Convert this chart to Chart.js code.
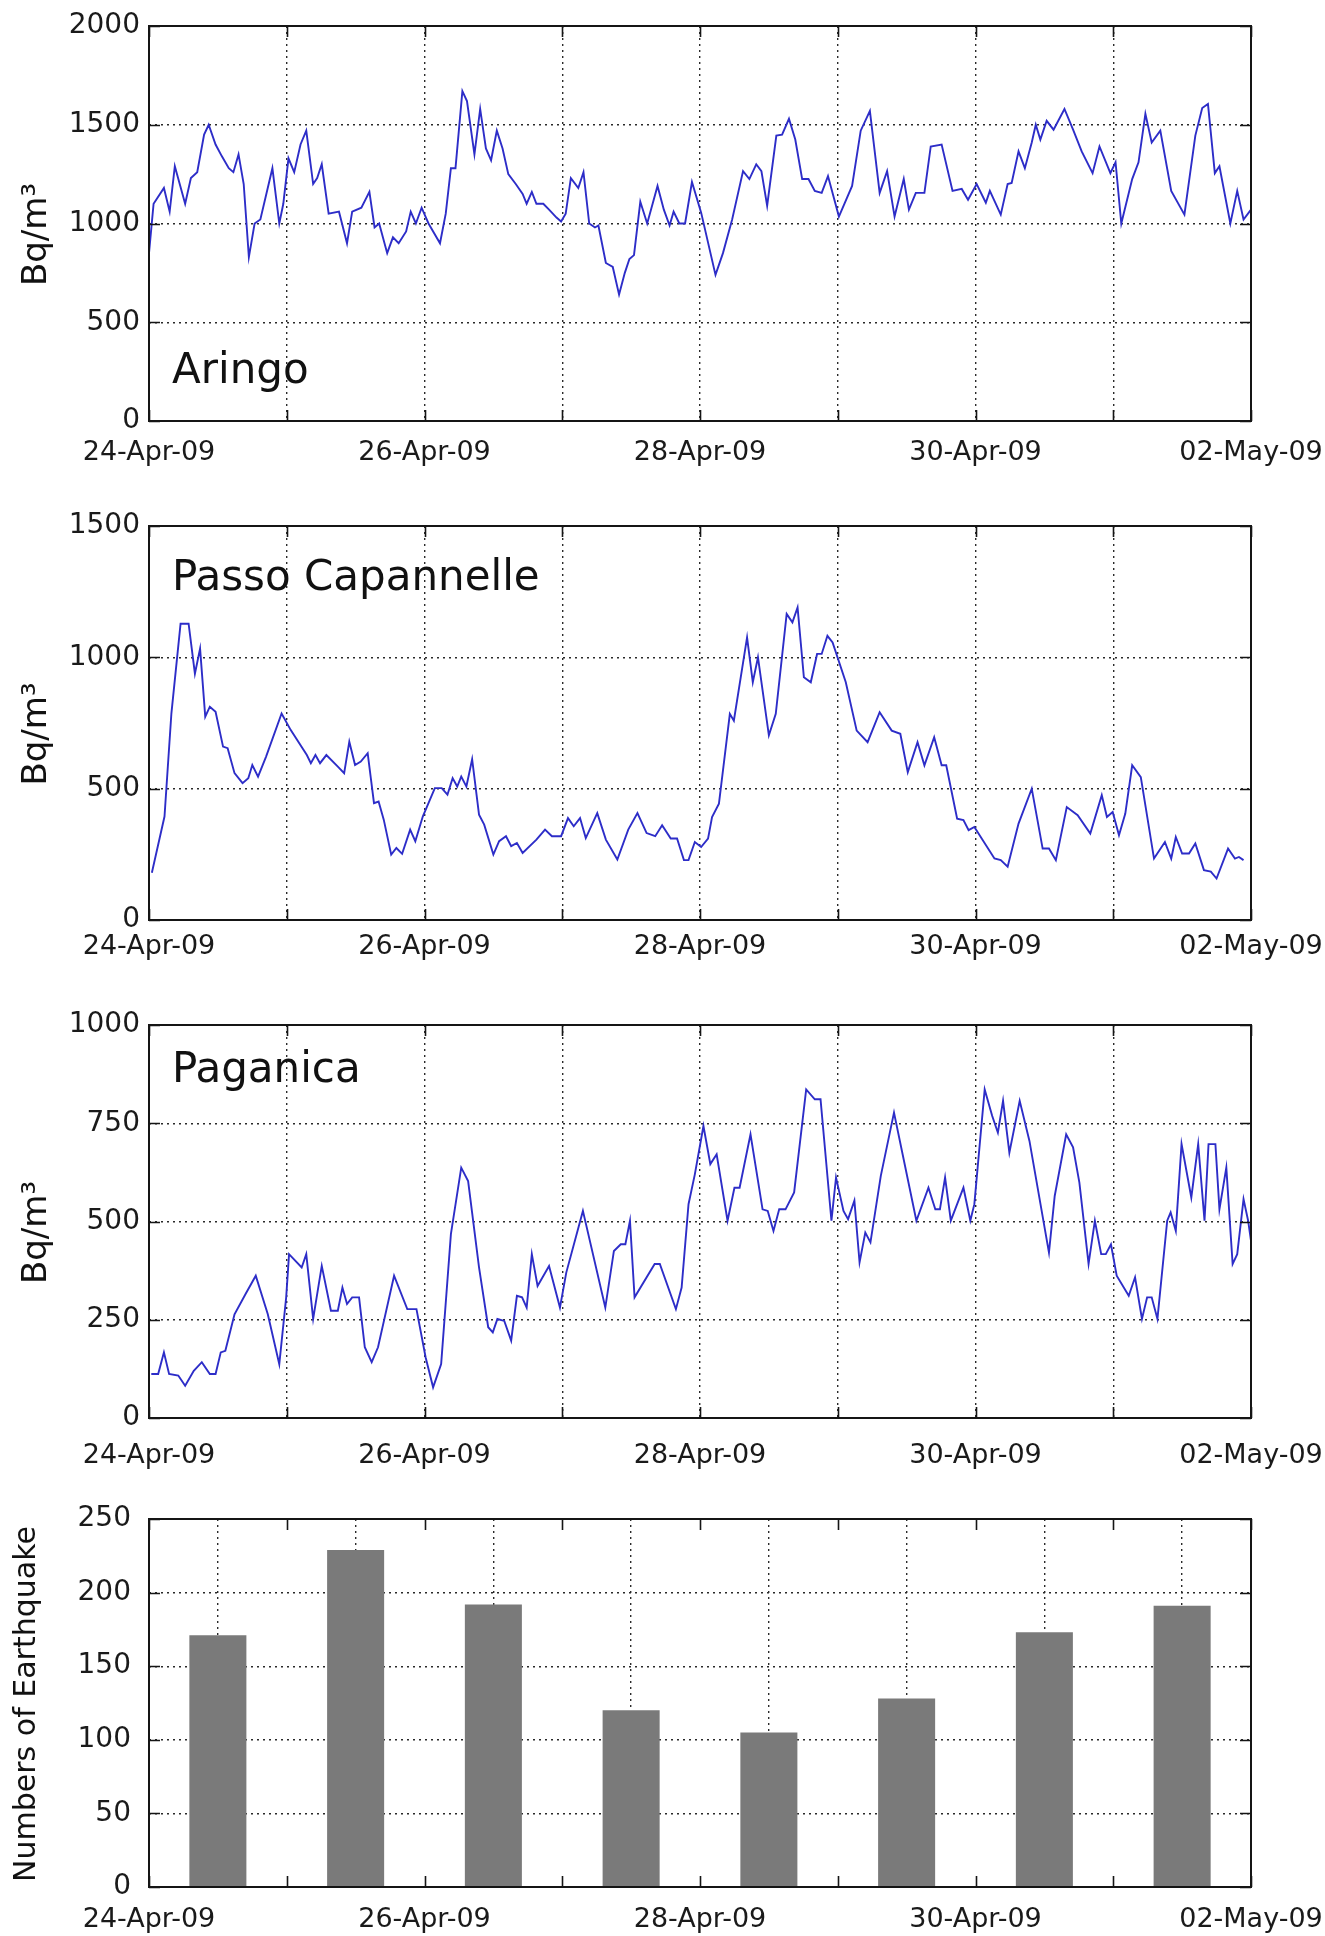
<!DOCTYPE html>
<html>
<head>
<meta charset="utf-8">
<script src="https://cdn.jsdelivr.net/npm/chart.js@4.4.0/dist/chart.umd.min.js"></script>
<style>
  body { margin: 0; background: #fff; }
  #wrap { position: relative; width: 1325px; height: 1936px; background: #fff; }
  canvas { position: absolute; left: 0; }
</style>
</head>
<body>
<div id="wrap">
  <canvas id="aringo" width="1325" height="475" style="top:0px"></canvas>
  <canvas id="passo" width="1325" height="500" style="top:475px"></canvas>
  <canvas id="paganica" width="1325" height="500" style="top:975px"></canvas>
  <canvas id="quakes" width="1325" height="461" style="top:1475px"></canvas>
</div>
<script>
// Tick labels of the time axis (one per day, only every second one is printed)
const dayLabels = ["24-Apr-09", "25-Apr-09", "26-Apr-09", "27-Apr-09", "28-Apr-09",
  "29-Apr-09", "30-Apr-09", "01-May-09", "02-May-09"];
const stationNames = ["Aringo", "Passo Capannelle", "Paganica"];

// Aringo: hours since 24-Apr-09 00:00, radon in Bq/m3
const aringoHours = [0, 0.8, 2.6, 3.6, 4.5, 6.3, 7.3, 8.4, 9.6, 10.4, 11.6, 12.7, 13.9, 14.7, 15.6, 16.5,
  17.4, 18.4, 19.4, 21.5, 22.7, 23.4, 24.3, 25.3, 26.4, 27.4, 28.6, 29.3, 30.1, 31.3, 33.1, 34.5, 35.4,
  37.0, 38.4, 39.3, 40.1, 41.5, 42.5, 43.5, 44.8, 45.6, 46.5, 47.5, 48.7, 50.7, 51.7, 52.6, 53.4, 54.6,
  55.4, 56.7, 57.7, 58.7, 59.6, 60.6, 61.6, 62.6, 63.9, 65.1, 65.8, 66.7, 67.5, 68.7, 69.7, 71.0, 71.8,
  72.6, 73.5, 74.8, 75.7, 76.7, 77.7, 78.3, 79.6, 80.8, 81.9, 82.9, 83.7, 84.5, 85.6, 86.8, 88.6, 89.7,
  90.7, 91.4, 92.4, 93.4, 94.6, 96.2, 98.7, 100.0, 101.6, 103.5, 104.6, 105.8, 106.7, 107.7, 109.3,
  110.3, 111.5, 112.6, 113.8, 114.9, 116.0, 117.2, 118.3, 120.2, 122.5, 124.0, 125.6, 127.3, 128.6,
  129.9, 131.5, 132.4, 133.6, 135.1, 136.2, 138.1, 140.0, 141.6, 142.7, 144.2, 145.8, 146.5, 148.4,
  149.6, 150.3, 151.5, 152.6, 153.8, 154.5, 155.3, 156.4, 157.6, 159.5, 161.0, 162.5, 164.4, 165.6,
  167.5, 168.4, 169.4, 171.3, 172.4, 173.6, 174.7, 176.2, 178.1, 180.4, 182.3, 183.5, 184.5, 185.7,
  186.5, 188.4, 189.6, 190.7, 192.0];
const aringoValues = [850, 1100, 1180, 1060, 1290, 1100, 1230, 1260, 1450, 1500, 1400, 1340, 1280, 1260,
  1350, 1200, 830, 1000, 1020, 1280, 1000, 1100, 1330, 1260, 1400, 1470, 1200, 1230, 1300, 1050, 1060,
  900, 1060, 1080, 1160, 980, 1000, 850, 930, 900, 960, 1060, 1000, 1080, 1000, 900, 1050, 1280, 1280,
  1670, 1620, 1350, 1580, 1380, 1320, 1470, 1380, 1250, 1200, 1150, 1100, 1160, 1100, 1100, 1070, 1030,
  1010, 1050, 1230, 1180, 1260, 1000, 980, 990, 800, 780, 640, 750, 820, 840, 1110, 1000, 1190, 1070,
  990, 1060, 1000, 1000, 1210, 1055, 740, 850, 1020, 1265, 1225, 1300, 1265, 1090, 1445, 1450, 1530,
  1425, 1225, 1225, 1165, 1155, 1240, 1035, 1190, 1470, 1570, 1155, 1265, 1035, 1225, 1070, 1155, 1155,
  1390, 1400, 1165, 1175, 1120, 1200, 1105, 1165, 1045, 1200, 1205, 1365, 1280, 1410, 1500, 1425, 1520,
  1475, 1580, 1475, 1365, 1255, 1390, 1255, 1310, 1000, 1225, 1310, 1555, 1410, 1470, 1165, 1045, 1445,
  1585, 1605, 1255, 1290, 1000, 1165, 1020, 1070];

// Passo Capannelle
const passoHours = [0.5, 2.7, 3.9, 5.5, 6.9, 8.0, 8.9, 9.8, 10.6, 11.6, 12.9, 13.7, 14.9, 16.3, 17.3,
  18.0, 19.0, 20.4, 23.1, 24.7, 27.5, 28.2, 29.0, 29.8, 30.9, 32.9, 34.0, 34.9, 35.9, 36.9, 38.1, 39.2,
  40.0, 40.9, 42.2, 43.1, 44.1, 45.5, 46.4, 47.7, 49.8, 51.0, 52.0, 52.9, 53.7, 54.4, 55.3, 56.3, 57.5,
  58.4, 60.0, 61.0, 62.2, 63.1, 64.1, 65.1, 67.5, 69.0, 70.2, 71.8, 73.0, 74.0, 75.1, 76.1, 78.1, 79.6,
  81.6, 83.5, 85.1, 86.7, 88.2, 89.4, 90.9, 92.0, 93.2, 94.0, 95.1, 96.2, 97.4, 98.1, 99.3, 101.2,
  101.9, 104.2, 105.2, 106.1, 108.0, 109.2, 111.1, 112.1, 113.0, 114.1, 115.3, 116.4, 117.2, 118.2,
  119.1, 121.4, 123.3, 125.2, 127.3, 129.4, 130.9, 132.2, 133.9, 135.1, 136.8, 138.1, 138.9, 140.8,
  141.9, 142.8, 143.8, 147.3, 148.4, 149.6, 151.5, 153.8, 155.7, 156.8, 158.0, 159.9, 161.8, 164.0,
  166.0, 166.9, 167.9, 169.0, 170.1, 171.3, 172.8, 175.1, 177.0, 178.1, 178.9, 180.0, 181.2, 182.3,
  183.8, 185.0, 186.0, 188.0, 189.2, 189.9, 190.7];
const passoValues = [180, 394, 786, 1128, 1128, 938, 1033, 774, 812, 793, 660, 654, 559, 521, 540, 590,
  546, 622, 786, 723, 628, 597, 628, 597, 628, 584, 559, 679, 590, 603, 635, 445, 451, 382, 249, 274,
  252, 344, 300, 394, 502, 502, 477, 540, 508, 546, 508, 612, 401, 363, 249, 300, 319, 281, 293, 255,
  306, 344, 319, 319, 388, 357, 388, 312, 407, 306, 230, 344, 407, 331, 319, 361, 310, 310, 228, 228,
  297, 278, 310, 392, 443, 785, 759, 1076, 905, 1000, 703, 785, 1165, 1133, 1190, 924, 905, 1013, 1013,
  1082, 1057, 905, 721, 677, 791, 721, 709, 563, 677, 589, 696, 589, 589, 386, 380, 342, 354, 234, 228,
  203, 367, 500, 272, 272, 228, 430, 399, 329, 475, 392, 411, 323, 405, 589, 544, 234, 297, 234, 316,
  253, 253, 291, 190, 184, 158, 272, 234, 240, 228];

// Paganica
const paganicaHours = [0.4, 1.6, 2.6, 3.5, 5.1, 6.3, 7.8, 9.2, 10.6, 11.6, 12.5, 13.3, 14.9, 16.8, 18.6,
  20.7, 22.7, 23.9, 24.4, 26.6, 27.4, 28.6, 30.1, 31.7, 32.9, 33.7, 34.5, 35.4, 36.6, 37.6, 38.8, 39.9,
  42.7, 45.0, 46.6, 48.2, 49.5, 50.9, 52.6, 54.4, 55.6, 57.5, 59.1, 59.9, 60.7, 61.9, 63.1, 64.1, 65.0,
  65.8, 66.7, 67.7, 69.7, 71.6, 72.7, 75.6, 79.5, 81.0, 82.2, 83.0, 83.8, 84.6, 88.1, 89.0, 91.8, 92.8,
  94.0, 95.1, 96.6, 97.8, 98.9, 100.8, 102.0, 102.9, 104.8, 106.9, 107.8, 108.8, 109.8, 110.9, 112.4,
  114.5, 116.0, 117.0, 118.9, 119.7, 121.0, 121.8, 122.9, 123.8, 124.8, 125.7, 127.5, 129.8, 131.3,
  133.7, 135.8, 137.0, 137.8, 138.7, 139.7, 141.9, 143.1, 143.8, 145.6, 146.9, 147.9, 148.8, 149.9,
  151.7, 153.4, 156.8, 157.8, 159.8, 161.0, 162.1, 163.7, 164.8, 165.9, 166.7, 167.6, 168.6, 170.7,
  171.8, 173.0, 173.9, 174.7, 175.7, 177.4, 178.0, 178.9, 179.9, 181.6, 182.8, 183.9, 184.6, 185.8,
  186.5, 187.7, 188.8, 189.6, 190.7, 191.5, 192.0];
const paganicaValues = [112, 112, 167, 112, 108, 82, 120, 142, 112, 112, 167, 171, 264, 315, 362, 264,
  137, 307, 417, 383, 417, 252, 387, 273, 273, 332, 290, 307, 307, 180, 142, 180, 362, 277, 277, 154,
  78, 137, 468, 637, 603, 383, 231, 218, 252, 247, 197, 311, 307, 281, 417, 336, 387, 281, 370, 527,
  281, 425, 442, 442, 502, 307, 392, 392, 277, 332, 544, 620, 743, 646, 671, 502, 586, 586, 722, 531,
  527, 476, 531, 531, 574, 836, 811, 811, 502, 612, 527, 506, 553, 396, 472, 447, 616, 777, 671, 502,
  586, 531, 531, 612, 502, 586, 502, 544, 836, 769, 726, 807, 675, 807, 705, 421, 565, 722, 689, 599,
  392, 502, 417, 417, 442, 362, 311, 358, 252, 307, 307, 252, 502, 523, 476, 697, 561, 697, 502, 697,
  697, 531, 637, 392, 417, 557, 502, 451];

// Daily number of earthquakes (bars centred at midday)
const quakeHours = [12, 36, 60, 84, 108, 132, 156, 180];
const quakeCounts = [171, 229, 192, 120, 105, 128, 173, 191];

Chart.defaults.font.family = "'DejaVu Sans', sans-serif";
Chart.defaults.color = "#1a1a1a";
Chart.defaults.animation = false;

// box round the plot, inward ticks on all four sides, station name, y title
const matlabFrame = {
  id: "matlabFrame",
  afterDraw(chart, args, opts) {
    const ctx = chart.ctx;
    const a = chart.chartArea;
    const x = chart.scales.x;
    const y = chart.scales.y;
    ctx.save();
    ctx.strokeStyle = "#151515";
    ctx.lineWidth = 1.6;
    ctx.beginPath();
    x.ticks.forEach((t) => {
      const px = Math.round(x.getPixelForValue(t.value)) + 0.5;
      ctx.moveTo(px, a.bottom);
      ctx.lineTo(px, a.bottom - 11);
      ctx.moveTo(px, a.top);
      ctx.lineTo(px, a.top + 11);
    });
    y.ticks.forEach((t) => {
      const py = Math.round(y.getPixelForValue(t.value)) + 0.5;
      ctx.moveTo(a.left, py);
      ctx.lineTo(a.left + 11, py);
      ctx.moveTo(a.right, py);
      ctx.lineTo(a.right - 11, py);
    });
    ctx.stroke();
    ctx.lineWidth = 2;
    ctx.strokeRect(a.left, a.top, a.right - a.left, a.bottom - a.top);
    ctx.fillStyle = "#111";
    if (opts.name) {
      ctx.font = "42px 'DejaVu Sans'";
      ctx.textBaseline = "alphabetic";
      ctx.textAlign = "left";
      ctx.fillText(opts.name, a.left + 23, a.top + opts.baseline);
    }
    if (opts.yTitle) {
      // vertical axis title, a little below the middle as in the original
      ctx.translate(opts.yTitleX, (a.top + a.bottom) / 2 + opts.yTitleShift);
      ctx.rotate(-Math.PI / 2);
      ctx.font = opts.yTitleSize + "px 'DejaVu Sans'";
      ctx.textAlign = "center";
      ctx.textBaseline = "middle";
      ctx.fillText(opts.yTitle, 0, 0);
    }
    ctx.restore();
  },
};

function timeAxis(xHeight, labelPad) {
  return {
    type: "linear",
    min: 0,
    max: 192,
    offset: false,
    z: 1,
    grid: { drawTicks: false, color: "#2a2a2a", lineWidth: 1.4 },
    border: { display: false, dash: [2, 4] },
    ticks: {
      stepSize: 24,
      autoSkip: false,
      maxRotation: 0,
      padding: labelPad,
      font: { size: 27 },
      callback: (v) => (v % 48 === 0 ? dayLabels[v / 24] : ""),
    },
    afterFit: (s) => {
      s.height = xHeight;
      // let the end labels hang past the plot box, as in the original
      s.paddingLeft = 0;
      s.paddingRight = 0;
    },
  };
}

function valueAxis(max, step, tickPad) {
  return {
    min: 0,
    max: max,
    z: 1,
    grid: { drawTicks: false, color: "#2a2a2a", lineWidth: 1.4 },
    border: { display: false, dash: [2, 4] },
    ticks: {
      stepSize: step,
      padding: tickPad,
      font: { size: 28 },
      callback: (v) => String(v),
    },
    afterFit: (s) => {
      s.width = 149;
      s.paddingTop = 0;
      s.paddingBottom = 0;
    },
  };
}

function radonChart(id, hours, values, yMax, yStep, name, baseline, padTop, xHeight, labelPad) {
  let points = hours.map((h, i) => ({ x: h, y: values[i] }));
  new Chart(document.getElementById(id), {
    type: "line",
    data: {
      datasets: [
        {
          data: points,
          borderColor: "#2d2dc8",
          borderWidth: 1.9,
          pointRadius: 0,
          tension: 0,
          fill: false,
        },
      ],
    },
    options: {
      responsive: false,
      layout: { padding: { top: padTop, right: 74, bottom: 0, left: 0 } },
      plugins: {
        legend: { display: false },
        tooltip: { enabled: false },
        matlabFrame: {
          name: name,
          baseline: baseline,
          yTitle: "Bq/m³",
          yTitleSize: 34,
          yTitleX: 37,
          yTitleShift: 11,
        },
      },
      scales: {
        x: timeAxis(xHeight, labelPad),
        y: valueAxis(yMax, yStep, 9),
      },
    },
    plugins: [matlabFrame],
  });
}

radonChart("aringo", aringoHours, aringoValues, 2000, 500, stationNames[0], 357, 26, 54, 16);
radonChart("passo", passoHours, passoValues, 1500, 500, stationNames[1], 64, 51, 55, 11);
radonChart("paganica", paganicaHours, paganicaValues, 1000, 250, stationNames[2], 57, 50, 57, 22);

// Bar chart of earthquakes
let quakePoints = quakeHours.map((h, i) => ({ x: h, y: quakeCounts[i] }));
new Chart(document.getElementById("quakes"), {
  type: "bar",
  data: {
    datasets: [
      {
        data: quakePoints,
        backgroundColor: "#7a7a7a",
        borderWidth: 0,
        categoryPercentage: 1,
        barPercentage: 0.414,
      },
    ],
  },
  options: {
    responsive: false,
    layout: { padding: { top: 44, right: 74, bottom: 0, left: 0 } },
    plugins: {
      legend: { display: false },
      tooltip: { enabled: false },
      matlabFrame: {
        name: "",
        yTitle: "Numbers of Earthquake",
        yTitleSize: 30,
        yTitleX: 27,
        yTitleShift: 1,
      },
    },
    scales: {
      x: timeAxis(49, 17),
      y: valueAxis(250, 50, 18),
    },
  },
  plugins: [matlabFrame],
});
</script>
</body>
</html>
